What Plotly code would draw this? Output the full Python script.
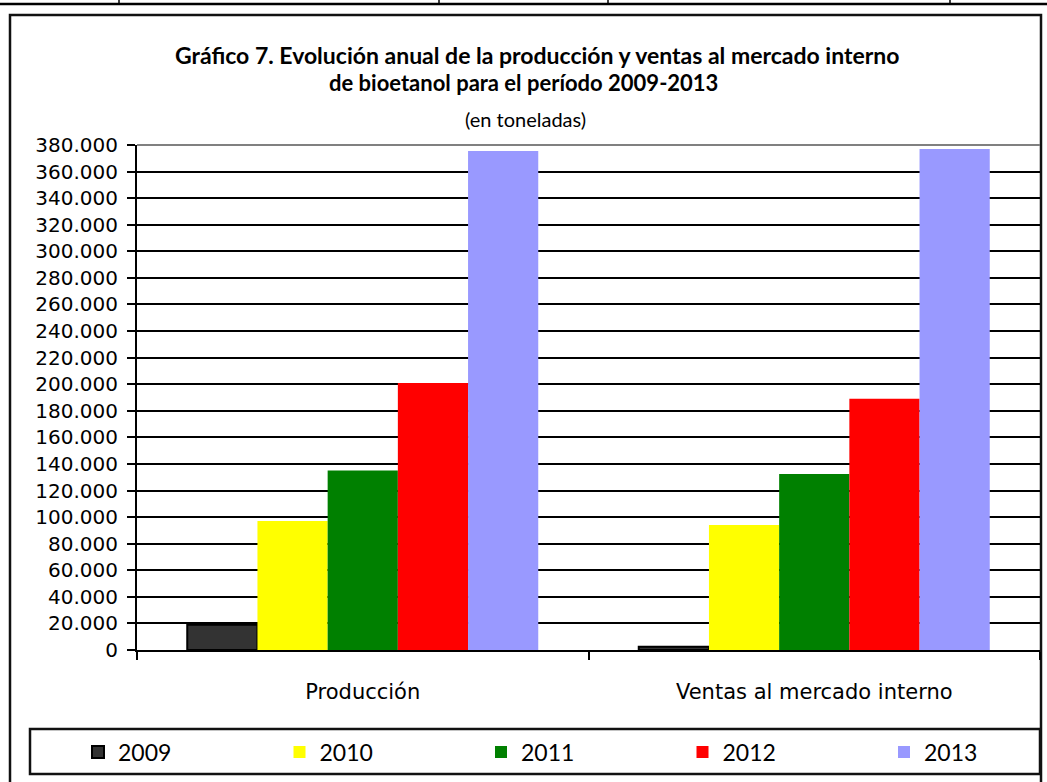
import plotly.graph_objects as go

categories = ["Producción", "Ventas al mercado interno"]
years = ["2009", "2010", "2011", "2012", "2013"]
v2009 = [19000, 2500]
v2010 = [97000, 94000]
v2011 = [135000, 132500]
v2012 = [201000, 189000]
v2013 = [375500, 377000]
series = [v2009, v2010, v2011, v2012, v2013]
colors = ["#333333", "#FFFF00", "#008000", "#FF0000", "#9999FF"]
y_max = 380000
y_step = 20000

W, H = 1047, 782
L, R, T, B = 137, 1040, 145, 650


def px(x):
    return (x - L) / (R - L)


def py(y):
    return (B - y) / (B - T)


fig = go.Figure()
for i, (yr, vals, col) in enumerate(zip(years, series, colors)):
    fig.add_trace(go.Bar(
        x=categories, y=vals, name=yr,
        marker=dict(color=col,
                    line=dict(color="black" if yr == "2009" else col,
                              width=2 if yr == "2009" else 0)),
        legendwidth=60 if i == len(years) - 1 else None,
    ))

shapes = []
shapes.append(dict(type="rect", xref="paper", yref="paper",
                   x0=px(10), x1=px(1041), y0=py(800), y1=py(15),
                   line=dict(color="#111111", width=2.5), layer="below"))
shapes.append(dict(type="rect", xref="paper", yref="paper",
                   x0=px(30), x1=px(1040), y0=py(774), y1=py(729),
                   line=dict(color="#111111", width=2.5)))
shapes.append(dict(type="line", xref="paper", yref="paper",
                   x0=px(0), x1=px(1047), y0=py(4), y1=py(4),
                   line=dict(color="black", width=2.5)))
for xv in [119, 439, 608, 950]:
    shapes.append(dict(type="line", xref="paper", yref="paper",
                       x0=px(xv), x1=px(xv), y0=py(0), y1=py(4),
                       line=dict(color="black", width=1.5)))
shapes.append(dict(type="line", xref="paper", yref="paper",
                   x0=0, x1=1, y0=1, y1=1,
                   line=dict(color="#808080", width=2)))

annotations = [
    dict(text="<b>Gráfico 7. Evolución anual de la producción y ventas al mercado interno</b>",
         xref="paper", yref="paper", x=px(537), y=py(55), showarrow=False,
         font=dict(family="Lato", size=23, color="black"), xanchor="center", yanchor="middle"),
    dict(text="<b>de bioetanol para el período 2009-2013</b>",
         xref="paper", yref="paper", x=px(523), y=py(83), showarrow=False,
         font=dict(family="Lato", size=22, color="black"), xanchor="center", yanchor="middle"),
    dict(text="(en toneladas)",
         xref="paper", yref="paper", x=px(525), y=py(119), showarrow=False,
         font=dict(family="Lato", size=20, color="black"), xanchor="center", yanchor="middle"),
]

fig.update_layout(
    width=W, height=H,
    margin=dict(l=L, r=W - R, t=T, b=H - B, pad=0),
    paper_bgcolor="white", plot_bgcolor="white",
    barmode="group", bargap=0.2226, bargroupgap=0,
    separators=",.",
    showlegend=True,
    legend=dict(orientation="h", x=px(78), xanchor="left", y=py(752), yanchor="middle",
                entrywidth=156.5, entrywidthmode="pixels",
                font=dict(family="Lato", size=23, color="black"),
                bgcolor="rgba(0,0,0,0)", borderwidth=0, traceorder="normal"),
    shapes=shapes,
    annotations=annotations,
    xaxis=dict(showline=True, linecolor="black", linewidth=2,
               ticks="outside", tickson="boundaries", ticklen=8, tickcolor="black", tickwidth=2,
               tickfont=dict(family="DejaVu Sans", size=21, color="black"),
               ticklabelstandoff=22, showgrid=False),
    yaxis=dict(range=[0, y_max], dtick=y_step, tick0=0, tickformat=",d",
               showline=True, linecolor="black", linewidth=2,
               ticks="outside", ticklen=8, tickcolor="black", tickwidth=2,
               tickfont=dict(family="DejaVu Sans", size=20, color="black"),
               ticklabelstandoff=5,
               showgrid=True, gridcolor="black", gridwidth=1.5, zeroline=False),
)

fig.write_html("out.html", config={"displayModeBar": False},
               post_script="document.body.style.margin='0px';")
